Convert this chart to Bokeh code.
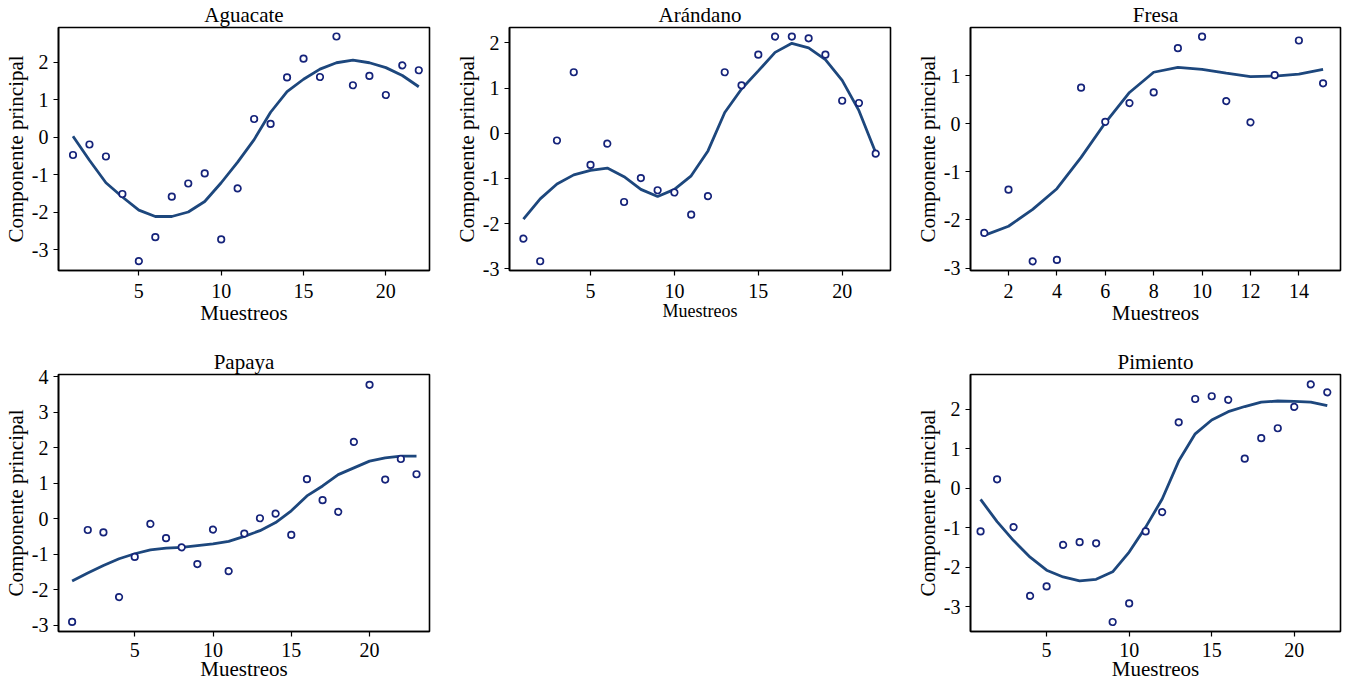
from bokeh.plotting import figure
from bokeh.layouts import column, row
from bokeh.models import FixedTicker, Range1d, Spacer, CustomJSTickFormatter
from bokeh.embed import file_html
from bokeh.resources import INLINE

# ---------------- data ----------------
agu_x = list(range(1, 23))
agu_y = [-0.48, -0.20, -0.52, -1.52, -3.31, -2.67, -1.59, -1.24, -0.97, -2.73, -1.37,
         0.48, 0.35, 1.59, 2.09, 1.60, 2.68, 1.38, 1.63, 1.12, 1.91, 1.78]
agu_fit = [0.02, -0.62, -1.22, -1.60, -1.95, -2.12, -2.12, -2.00, -1.72, -1.22, -0.67,
           -0.07, 0.66, 1.21, 1.54, 1.81, 1.98, 2.05, 1.98, 1.85, 1.64, 1.34]

ara_x = list(range(1, 23))
ara_y = [-2.33, -2.83, -0.16, 1.35, -0.70, -0.23, -1.52, -0.99, -1.26, -1.31, -1.80,
         -1.39, 1.35, 1.06, 1.74, 2.14, 2.14, 2.10, 1.74, 0.72, 0.67, -0.45]
ara_fit = [-1.90, -1.45, -1.12, -0.92, -0.82, -0.77, -0.96, -1.24, -1.40, -1.24, -0.94,
           -0.39, 0.46, 0.98, 1.38, 1.79, 1.99, 1.89, 1.63, 1.17, 0.50, -0.43]

fre_x = list(range(1, 16))
fre_y = [-2.27, -1.37, -2.86, -2.83, 0.75, 0.04, 0.43, 0.65, 1.57, 1.81, 0.47, 0.03,
         1.01, 1.73, 0.84]
fre_fit = [-2.32, -2.13, -1.78, -1.35, -0.70, 0.02, 0.65, 1.07, 1.17, 1.13, 1.05, 0.98,
           0.99, 1.03, 1.13]

pap_x = list(range(1, 24))
pap_y = [-2.90, -0.31, -0.38, -2.20, -1.07, -0.14, -0.54, -0.80, -1.27, -0.30, -1.47,
         -0.41, 0.02, 0.15, -0.45, 1.12, 0.53, 0.20, 2.17, 3.78, 1.11, 1.69, 1.26]
pap_fit = [-1.75, -1.52, -1.31, -1.12, -0.98, -0.87, -0.82, -0.80, -0.75, -0.70, -0.63,
           -0.49, -0.33, -0.10, 0.23, 0.65, 0.93, 1.25, 1.44, 1.63, 1.72, 1.77, 1.77]

pim_x = list(range(1, 23))
pim_y = [-1.09, 0.23, -0.98, -2.72, -2.48, -1.43, -1.36, -1.39, -3.38, -2.91, -1.09,
         -0.60, 1.67, 2.26, 2.33, 2.24, 0.75, 1.27, 1.52, 2.06, 2.63, 2.43]
pim_fit = [-0.28, -0.84, -1.32, -1.74, -2.07, -2.24, -2.34, -2.30, -2.11, -1.61, -0.98,
           -0.27, 0.69, 1.38, 1.73, 1.94, 2.07, 2.18, 2.21, 2.20, 2.18, 2.09]

FONT = "Liberation Serif"
PT_COLOR = "#15237a"
LN_COLOR = "#1d477d"


def panel(title, xs, ys, fit, xr, yr, xt, yt, w, h, bl, br, bt, bb,
          xlab_size="21px", xls=8, xas=0):
    p = figure(width=w, height=h, output_backend="svg", toolbar_location=None,
               x_range=Range1d(*xr), y_range=Range1d(*yr),
               min_border_left=bl, min_border_right=br,
               min_border_top=bt, min_border_bottom=bb)
    p.title.text = title
    p.title.align = "center"
    p.title.text_font = FONT
    p.title.text_font_size = "21px"
    p.title.text_font_style = "normal"
    p.title.text_color = "black"
    p.title.standoff = 1
    p.grid.visible = False
    p.outline_line_color = "black"
    p.outline_line_width = 1.6
    p.outline_line_alpha = 1
    p.background_fill_color = "white"
    p.border_fill_color = "white"

    p.xaxis.ticker = FixedTicker(ticks=xt)
    p.yaxis.ticker = FixedTicker(ticks=yt)
    p.xaxis.axis_label = "Muestreos"
    p.yaxis.axis_label = "Componente principal"
    fmt = "return tick.toString();"
    for ax in (p.xaxis[0], p.yaxis[0]):
        ax.formatter = CustomJSTickFormatter(code=fmt)
        ax.axis_label_text_font = FONT
        ax.axis_label_text_font_style = "normal"
        ax.axis_label_text_color = "black"
        ax.major_label_text_font = FONT
        ax.major_label_text_font_size = "20px"
        ax.major_label_text_color = "black"
        ax.axis_line_color = "black"
        ax.axis_line_width = 1.6
        ax.major_tick_line_color = "black"
        ax.major_tick_line_width = 1.2
        ax.major_tick_out = 5
        ax.major_tick_in = 0
        ax.minor_tick_line_color = None
    p.yaxis.major_label_standoff = 5
    p.yaxis.axis_label_standoff = 1
    p.xaxis.major_label_standoff = xls
    p.xaxis.axis_label_standoff = xas
    p.xaxis.axis_label_text_font_size = xlab_size
    p.yaxis.axis_label_text_font_size = "21px"

    p.line(xs, fit, line_color=LN_COLOR, line_width=2.8)
    p.scatter(xs, ys, marker="circle", size=6.5, fill_color="white",
              line_color=PT_COLOR, line_width=1.7)
    return p


H1, H2 = 330, 353
p1 = panel("Aguacate", agu_x, agu_y, agu_fit, (0.12, 22.65), (-3.56, 2.92),
           [5, 10, 15, 20], [-3, -2, -1, 0, 1, 2], 448, H1, 46, 19, 15, 60)
p2 = panel("Arándano", ara_x, ara_y, ara_fit, (0.17, 22.88), (-3.035, 2.34),
           [5, 10, 15, 20], [-3, -2, -1, 0, 1, 2], 448, H1, 61, 6, 15, 60, "18px")
p3 = panel("Fresa", fre_x, fre_y, fre_fit, (0.43, 15.72), (-3.05, 2.0),
           [2, 4, 6, 8, 10, 12, 14], [-3, -2, -1, 0, 1], 447, H1, 74, 3, 15, 60)
p4 = panel("Papaya", pap_x, pap_y, pap_fit, (0.13, 23.83), (-3.17, 4.07),
           [5, 10, 15, 20], [-3, -2, -1, 0, 1, 2, 3, 4], 448, H2, 46, 19, 44, 40,
           xls=6, xas=-3)
p5 = panel("Pimiento", pim_x, pim_y, pim_fit, (0.39, 22.8), (-3.62, 2.88),
           [5, 10, 15, 20], [-3, -2, -1, 0, 1, 2], 447, H2, 74, 3, 44, 40,
           xls=6, xas=-3)

layout = column(row(p1, p2, p3), row(p4, Spacer(width=448, height=H2), p5))

open("out.html", "w").write(file_html(layout, INLINE))
